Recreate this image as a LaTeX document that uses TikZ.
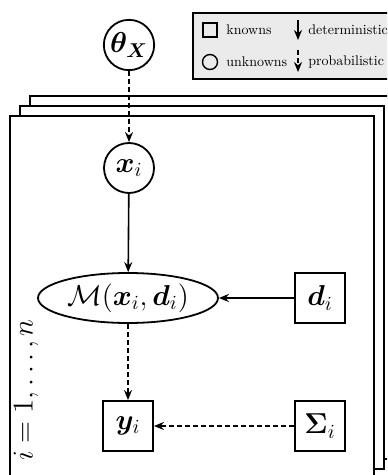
\documentclass[tikz,border=0pt]{standalone}
\usepackage{amsmath,bm,graphicx}
\usetikzlibrary{shapes.geometric,arrows.meta,positioning}

\newcommand{\legtxt}[1]{\scalebox{0.7}{#1}}

\begin{document}
\begin{tikzpicture}[
        x=0.5pt, y=-0.5pt,
        unknown/.style={draw, circle, line width=0.9pt, minimum size=25pt, inner sep=1pt, font=\Large},
        known/.style={draw, rectangle, line width=0.9pt, minimum size=25pt, inner sep=1pt, font=\Large},
        model/.style={draw, ellipse, line width=0.9pt, minimum width=90pt, minimum height=25pt, inner sep=0pt, font=\Large},
        plate/.style={draw, line width=0.9pt, fill=white},
        det/.style={draw, line width=0.8pt, -{Stealth[length=5pt, width=4pt]}},
        prob/.style={draw, line width=0.8pt, dash pattern=on 2.5pt off 1.5pt, -{Stealth[length=5pt, width=4pt]}},
        legendbox/.style={draw, line width=0.8pt, fill=black!8, inner sep=0pt},
        legendtext/.style={anchor=west, inner sep=2pt},
    ]
    \useasboundingbox (0,0) rectangle (387,475);
    \clip (0,0) rectangle (387,475);

    % plates
    \draw[plate] (30,96) rectangle (394,459);
    \draw[plate] (20,106) rectangle (384,469);
    \draw[plate] (10,116) rectangle (374,479);
    \node[rotate=90, font=\fontsize{15}{18}\selectfont, inner sep=0pt] (range) at (26,390) {$i=1,\ldots,n$};

    % legend
    \node[legendbox, anchor=north west, minimum width=110pt, minimum height=33pt] (legend) at (192,12) {};
    \node[draw, line width=0.7pt, minimum size=7pt, inner sep=0pt] (ksym) at (210,30) {};
    \node[draw, line width=0.7pt, circle, minimum size=7.5pt, inner sep=0pt] (usym) at (210,62) {};
    \node[legendtext] (ktext) at (222,30) {\legtxt{knowns}};
    \node[legendtext] (utext) at (222,62) {\legtxt{unknowns}};
    \coordinate (dtop) at (298,20);
    \coordinate (dbot) at (298,40);
    \coordinate (ptop) at (298,50);
    \coordinate (pbot) at (298,72);
    \draw[det, line width=0.6pt] (dtop) -- (dbot);
    \draw[prob, line width=0.6pt] (ptop) -- (pbot);
    \node[legendtext] (dtext) at (304,30) {\legtxt{deterministic}};
    \node[legendtext] (ptext) at (304,62) {\legtxt{probabilistic}};

    % nodes
    \node[unknown] (theta) at (129,45) {$\bm{\theta_X}$};
    \node[unknown] (x) at (129,168) {$\bm{x}_i$};
    \node[model] (model) at (128,298) {$\mathcal{M}(\bm{x}_i,\bm{d}_i)$};
    \node[known] (d) at (320,298) {$\bm{d}_i$};
    \node[known] (y) at (128,426) {$\bm{y}_i$};
    \node[known] (sigma) at (320,426) {$\bm{\Sigma}_i$};

    % edges
    \draw[prob] (theta) -- (x);
    \draw[det] (x) -- (model);
    \draw[det] (d) -- (model);
    \draw[prob] (model) -- (y);
    \draw[prob] (sigma) -- (y);

\end{tikzpicture}
\end{document}
